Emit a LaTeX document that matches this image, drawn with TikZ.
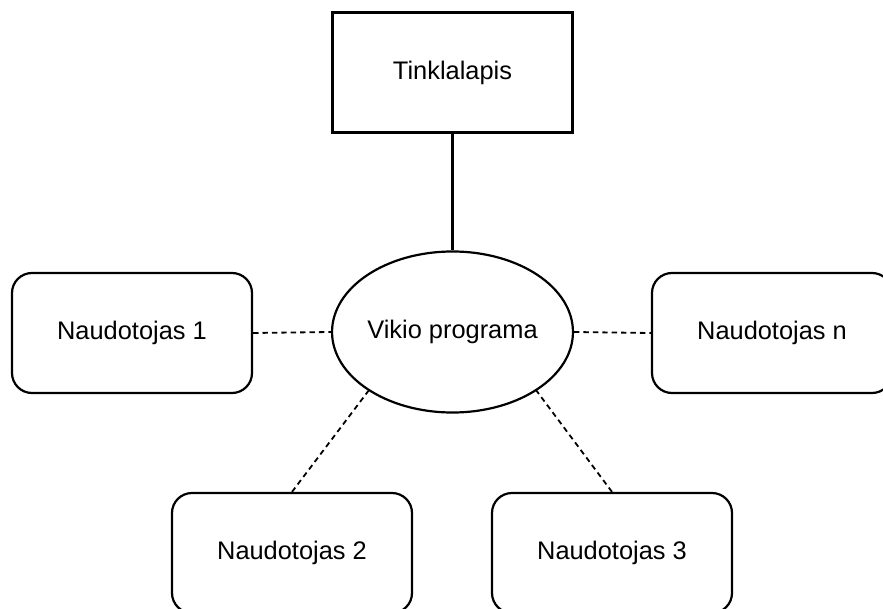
\documentclass[tikz,border=0pt]{standalone}
\usepackage{fontspec}
\setmainfont{Liberation Sans}
\usetikzlibrary{shapes.geometric}
\begin{document}
\begin{tikzpicture}[x=0.5pt,y=-0.5pt,
  every node/.style={font=\fontsize{12.7}{15}\selectfont, text=black},
  sitebox/.style={draw, line width=1.1pt, minimum width=120pt, minimum height=60pt, inner sep=0pt},
  userbox/.style={sitebox, rounded corners=10pt},
  appshape/.style={draw, ellipse, line width=1.1pt, minimum width=119.5pt, minimum height=80.5pt, inner sep=0pt},
  link/.style={line width=1.1pt},
  userlink/.style={line width=0.9pt, dash pattern=on 2.7pt off 2pt}]
  \useasboundingbox (0,0) rectangle (883,609);
  \clip (0,0) rectangle (883,609);

  % central application and the web page above it
  \node[sitebox] (web) at (452.5,72.5) {Tinklalapis};
  \node[appshape] (app) at (452.5,332) {Vikio programa};

  % users around the application
  \node[userbox] (u1) at (132,333) {Naudotojas 1};
  \node[userbox] (un) at (772,333) {Naudotojas n};
  \node[userbox] (u2) at (292,553) {Naudotojas 2};
  \node[userbox] (u3) at (612,553) {Naudotojas 3};

  % connections
  \draw[link] (web.south) -- (app.north);
  \draw[userlink] (u1.east) -- (app.west);
  \draw[userlink] (app.east) -- (un.west);
  \draw[userlink] (u2.north) -- (app.215);
  \draw[userlink] (u3.north) -- (app.325);
\end{tikzpicture}
\end{document}
